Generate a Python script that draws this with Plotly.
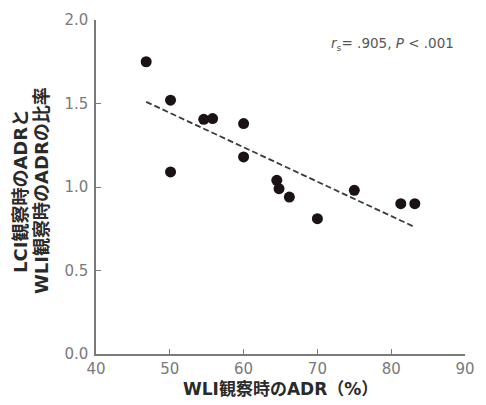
import plotly.graph_objects as go

wli_adr = [46.8, 50.1, 50.1, 54.6, 55.8, 60.0, 60.0, 64.5, 64.8, 66.2, 70.0, 75.0, 81.3, 83.2]
ratio = [1.75, 1.52, 1.09, 1.405, 1.41, 1.38, 1.18, 1.04, 0.99, 0.94, 0.81, 0.98, 0.90, 0.90]
trend_x = [46.8, 83.2]
trend_y = [1.51, 0.76]
x_ticks = [40, 50, 60, 70, 80, 90]
y_ticks = [0.0, 0.5, 1.0, 1.5, 2.0]
y_tick_text = ["0.0", "0.5", "1.0", "1.5", "2.0"]
y_title_lines = ["LCI観察時のADRと", "WLI観察時のADRの比率"]
x_title = "WLI観察時のADR（%）"

title_font = "DejaVu Sans, Noto Sans CJK JP, sans-serif"
tick_font = "DejaVu Sans, Liberation Sans, sans-serif"

fig = go.Figure()
fig.add_trace(go.Scatter(
    x=trend_x, y=trend_y, mode="lines",
    line=dict(color="#3a3a3a", width=1.8, dash="6px,3px"),
    hoverinfo="skip", showlegend=False))
fig.add_trace(go.Scatter(
    x=wli_adr, y=ratio, mode="markers",
    marker=dict(color="#1a1214", size=11, line=dict(width=0)),
    showlegend=False))

axis_common = dict(
    showgrid=False, zeroline=False, showline=True,
    linecolor="#7a7a7a", linewidth=1.5,
    ticks="inside", ticklen=5, tickwidth=1.3, tickcolor="#7a7a7a",
    tickfont=dict(size=15, color="#7a7a7a", family=tick_font),
)

annotations = [
    dict(x=0, y=0.5, xref="paper", yref="paper", xanchor="center", yanchor="middle",
         xshift=-76, yshift=-4, textangle=-90, showarrow=False,
         text="<b>" + y_title_lines[0] + "</b>",
         font=dict(size=18, color="#2a2a2a", family=title_font)),
    dict(x=0, y=0.5, xref="paper", yref="paper", xanchor="center", yanchor="middle",
         xshift=-55, yshift=-4, textangle=-90, showarrow=False,
         text="<b>" + y_title_lines[1] + "</b>",
         font=dict(size=18, color="#2a2a2a", family=title_font)),
    dict(x=0.5, y=0, xref="paper", yref="paper", xanchor="center", yanchor="middle",
         yshift=-35, showarrow=False,
         text="<b>" + x_title + "</b>",
         font=dict(size=17, color="#2a2a2a", family=title_font)),
    dict(x=0.976, y=0.928, xref="paper", yref="paper", xanchor="right", yanchor="middle",
         text="<i>r</i><sub>s</sub>= .905, <i>P</i> < .001", showarrow=False,
         font=dict(size=13.5, color="#555555", family=tick_font)),
]

fig.update_layout(
    width=486, height=405,
    margin=dict(l=96, r=11, t=20, b=51),
    plot_bgcolor="white", paper_bgcolor="white",
    xaxis=dict(range=[40, 90], tickvals=x_ticks, ticklabelstandoff=0, **axis_common),
    yaxis=dict(range=[0, 2.0], tickvals=y_ticks, ticktext=y_tick_text,
               ticklabelstandoff=3, **axis_common),
    annotations=annotations,
)

fig.write_html(
    "out.html",
    config={"displayModeBar": False},
    post_script=(
        "document.body.style.margin='0';"
        "document.body.style.overflow='hidden';"
        "document.documentElement.style.overflow='hidden';"
    ),
)
